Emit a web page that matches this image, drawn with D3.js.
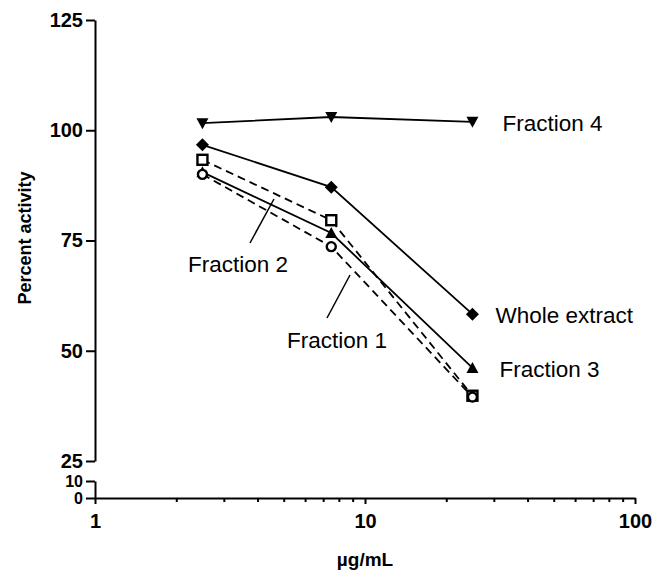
<!DOCTYPE html>
<html lang="en">
<head>
<meta charset="UTF-8" />
<title>Percent activity</title>
<script src="https://d3js.org/d3.v7.js"></script>
<style>
  body { margin: 0; background: #fff; }
  text { font-family: Arial, "Liberation Sans", sans-serif; fill: #000; }
</style>
</head>
<body>
<script>
    var w = 654;
    var h = 572;

    // data
    var doses = [2.5, 7.5, 25];
    var wholeExtract = [96.7, 87.1, 58.3];
    var fraction1 = [90.0, 73.6, 39.5];
    var fraction2 = [93.3, 79.6, 39.8];
    var fraction3 = [90.5, 76.7, 46.1];
    var fraction4 = [101.6, 103.0, 101.9];

    var yTicksMain = [25, 50, 75, 100, 125];
    var yTicksLow = [0, 10];
    var xTicksMajor = [1, 10, 100];
    var xTicksMinor = [2, 3, 4, 5, 6, 7, 8, 9, 20, 30, 40, 50, 60, 70, 80, 90];

    var svg = d3.select("body")
                .append("svg")
                .attr("width", w)
                .attr("height", h);

    var xScale = d3.scaleLog()
        .domain([1, 100])
        .range([95, 635]);

    // broken y axis: upper part 25-125, lower stub 0-10
    var yMain = d3.scaleLinear()
        .domain([25, 125])
        .range([461, 20]);
    var yLow = d3.scaleLinear()
        .domain([0, 10])
        .range([498, 481]);

    var axisX = 95;
    var axisY = 498;

    // y axes
    svg.append("g")
        .attr("transform", "translate(" + axisX + ",0)")
        .call(d3.axisLeft(yMain).tickValues(yTicksMain).tickSize(9).tickSizeOuter(0).tickPadding(3));
    svg.append("g")
        .attr("class", "low")
        .attr("transform", "translate(" + axisX + ",0)")
        .call(d3.axisLeft(yLow).tickValues(yTicksLow).tickSize(9).tickSizeOuter(0).tickPadding(3));

    // x axis
    svg.append("g")
        .attr("transform", "translate(0," + axisY + ")")
        .call(d3.axisBottom(xScale).tickValues(xTicksMajor).tickSize(6).tickSizeOuter(0)
              .tickFormat(d3.format("d")).tickPadding(10));
    svg.append("g")
        .attr("transform", "translate(0," + axisY + ")")
        .call(d3.axisBottom(xScale).tickValues(xTicksMinor).tickSize(4).tickSizeOuter(0).tickFormat(""))
        .select(".domain").remove();

    svg.selectAll(".domain, .tick line")
        .attr("stroke", "#000")
        .attr("stroke-width", 2);
    svg.selectAll(".tick text")
        .style("font-size", "20px")
        .style("font-weight", "bold");
    // the stub labels sit very close together, as in the original
    svg.selectAll(".low .tick text")
        .style("font-size", "16px");

    svg.append("text")
        .attr("x", xScale(10))
        .attr("y", 566)
        .attr("text-anchor", "middle")
        .style("font-size", "19px")
        .style("font-weight", "bold")
        .text("µg/mL");

    svg.append("text")
        .attr("transform", "translate(31," + 238 + ") rotate(-90)")
        .attr("text-anchor", "middle")
        .style("font-size", "18px")
        .style("font-weight", "bold")
        .text("Percent activity");

    var series = [
        { name: "Fraction 4", values: fraction4, dash: null, symbol: "down" },
        { name: "Whole extract", values: wholeExtract, dash: null, symbol: "diamond" },
        { name: "Fraction 3", values: fraction3, dash: null, symbol: "up" },
        { name: "Fraction 2", values: fraction2, dash: "8,5", symbol: "square" },
        { name: "Fraction 1", values: fraction1, dash: "8,5", symbol: "circle" }
    ];

    var line = d3.line()
        .x(function(d, i){ return xScale(doses[i]); })
        .y(function(d){ return yMain(d); });

    series.forEach(function(s){
        svg.append("path")
            .datum(s.values)
            .attr("d", line)
            .attr("fill", "none")
            .attr("stroke", "#000")
            .attr("stroke-width", 1.8)
            .attr("stroke-dasharray", s.dash);
    });

    series.forEach(function(s){
        var g = svg.selectAll(null)
            .data(s.values)
            .enter()
            .append("g")
            .attr("transform", function(d, i){
                return "translate(" + xScale(doses[i]) + "," + yMain(d) + ")";
            });
        if (s.symbol === "down") {
            g.append("path").attr("d", "M-6,-5L6,-5L0,6Z").attr("fill", "#000");
        } else if (s.symbol === "up") {
            g.append("path").attr("d", "M-6,5L6,5L0,-6Z").attr("fill", "#000");
        } else if (s.symbol === "diamond") {
            g.append("path").attr("d", "M0,-6.5L6.5,0L0,6.5L-6.5,0Z").attr("fill", "#000");
        } else if (s.symbol === "square") {
            g.append("rect").attr("x", -5).attr("y", -5).attr("width", 10).attr("height", 10)
                .attr("fill", "#fff").attr("stroke", "#000").attr("stroke-width", 2.4);
        } else if (s.symbol === "circle") {
            g.append("circle").attr("r", 4.5)
                .attr("fill", "#fff").attr("stroke", "#000").attr("stroke-width", 2.4);
        }
    });

    // labels at the right end of lines
    var rightLabels = [
        { name: "Fraction 4", values: fraction4, dx: 30 },
        { name: "Whole extract", values: wholeExtract, dx: 23 },
        { name: "Fraction 3", values: fraction3, dx: 27 }
    ];
    rightLabels.forEach(function(l){
        svg.append("text")
            .attr("x", xScale(doses[2]) + l.dx)
            .attr("y", yMain(l.values[2]) + 9)
            .style("font-size", "22.5px")
            .text(l.name);
    });

    // labels with leader lines
    svg.append("line")
        .attr("x1", 250).attr("y1", 243)
        .attr("x2", 274).attr("y2", 199)
        .attr("stroke", "#000").attr("stroke-width", 1.5);
    svg.append("text")
        .attr("x", 188).attr("y", 272)
        .style("font-size", "22.5px")
        .text("Fraction 2");

    svg.append("line")
        .attr("x1", 327).attr("y1", 318)
        .attr("x2", 350).attr("y2", 275)
        .attr("stroke", "#000").attr("stroke-width", 1.5);
    svg.append("text")
        .attr("x", 287).attr("y", 348)
        .style("font-size", "22.5px")
        .text("Fraction 1");
</script>
</body>
</html>
